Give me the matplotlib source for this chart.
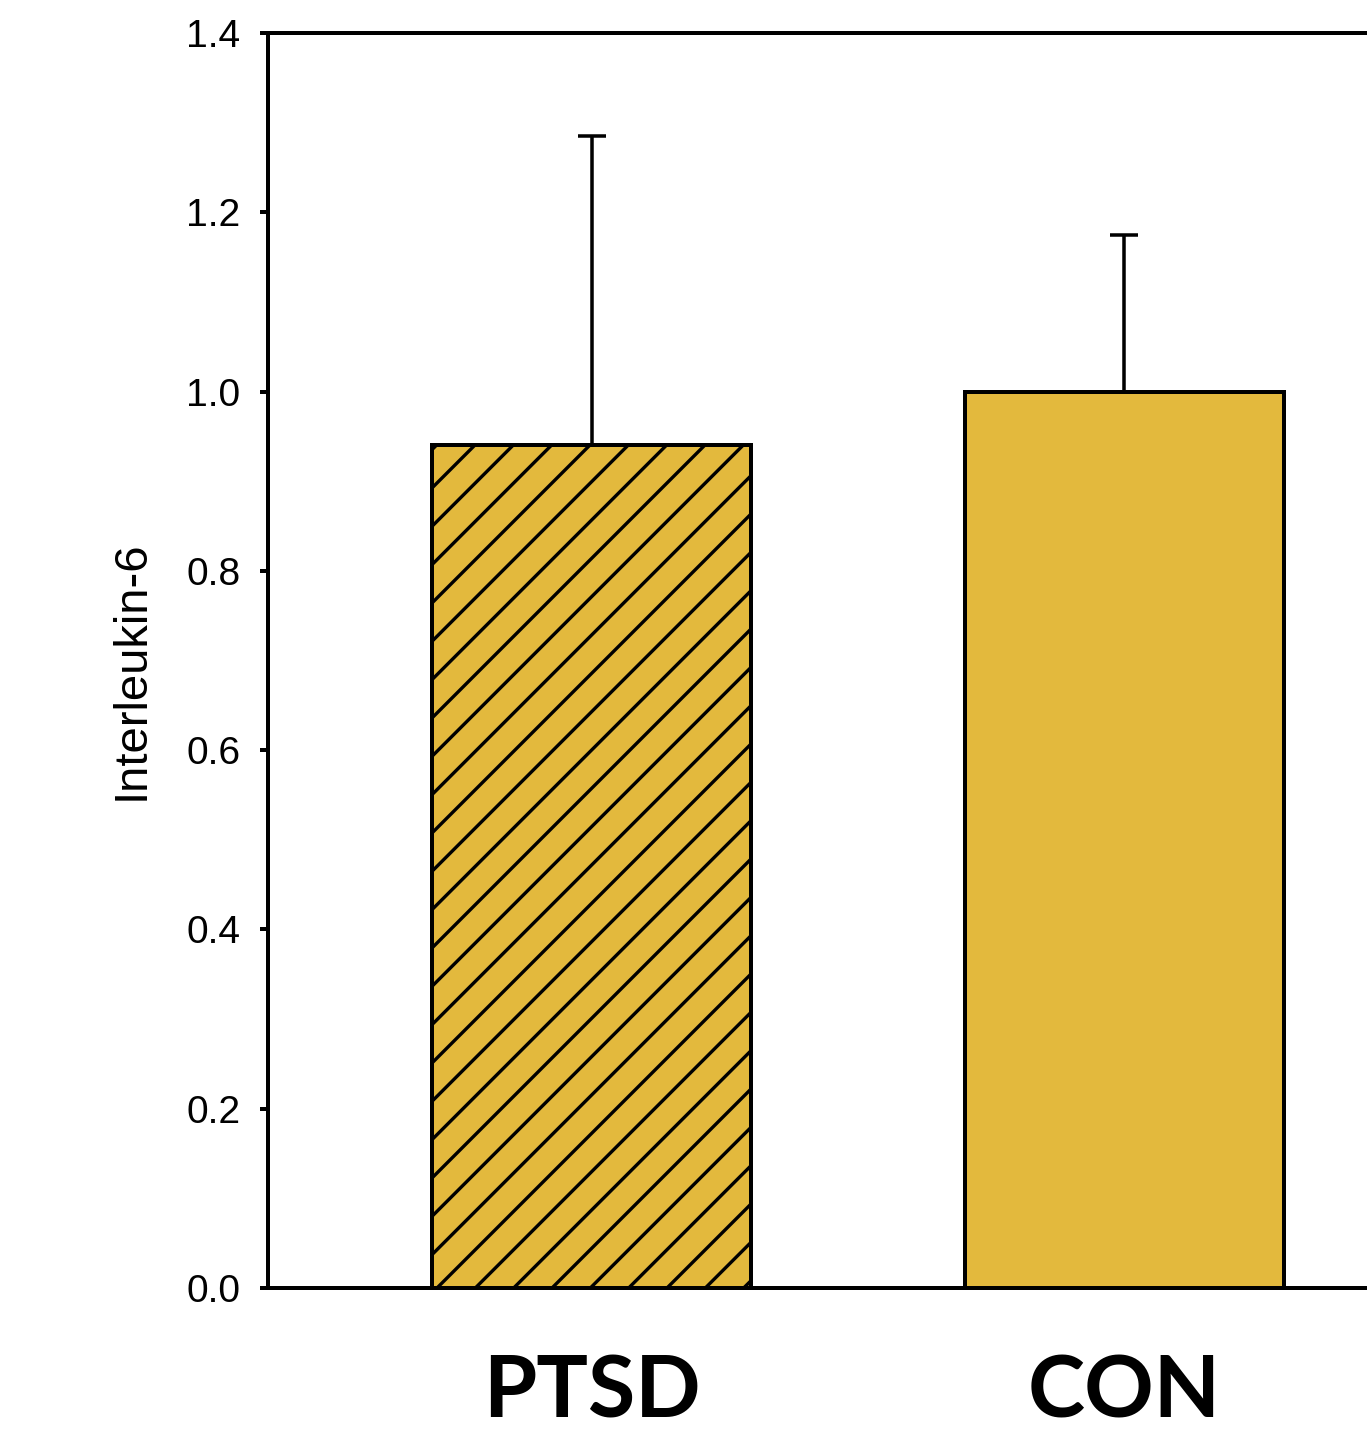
import numpy as np
import matplotlib
matplotlib.use('Agg')
from matplotlib import pyplot as plt

groups = ['PTSD', 'CON']
means = [0.94, 1.00]
errs = [0.345, 0.175]
hatches = ['/', '']
ylabel = 'Interleukin-6'
yticks = [0.0, 0.2, 0.4, 0.6, 0.8, 1.0, 1.2, 1.4]

bar_color = '#E3B93D'

# dpi 115 so the '/' hatch spacing comes out near the original
DPI = 115
plt.rcParams['hatch.linewidth'] = 2.1
plt.rcParams['font.family'] = ['Liberation Sans', 'DejaVu Sans']

fig = plt.figure(figsize=(1367/DPI, 1441/DPI), dpi=DPI)
ax = fig.add_axes([268/1367, 1 - 1288/1441, 1 - 268/1367, (1288 - 33)/1441])

x = np.arange(len(groups))
ax.errorbar(x, means, yerr=[np.zeros(len(errs)), errs], fmt='none',
            ecolor='black', elinewidth=2.2, capsize=8.8, capthick=2.2, zorder=1)
bars = ax.bar(x, means, width=0.6, color=bar_color, edgecolor='black',
              linewidth=2.5, zorder=2)
for b, h in zip(bars, hatches):
    b.set_hatch(h)

ax.set_xlim(-0.607, 1.455)
ax.set_ylim(0, 1.4)
ax.set_yticks(yticks)
ax.set_yticklabels(['%.1f' % v for v in yticks], fontsize=24.4)
ax.set_xticks(x)
ax.set_xticklabels(groups, fontsize=53.9, fontweight='bold', family=['Lato', 'DejaVu Sans'])

ax.spines['right'].set_visible(False)
for s in ['left', 'bottom', 'top']:
    ax.spines[s].set_linewidth(2.5)
ax.tick_params(axis='y', direction='out', length=5, width=2.5, pad=12.2)
ax.tick_params(axis='x', length=0, pad=41)

ax.set_ylabel(ylabel, fontsize=29.6, va='center')
ax.yaxis.set_label_coords((132 - 268)/1099, (1288 - 670)/1255)

fig.savefig('out.png', dpi=DPI)
